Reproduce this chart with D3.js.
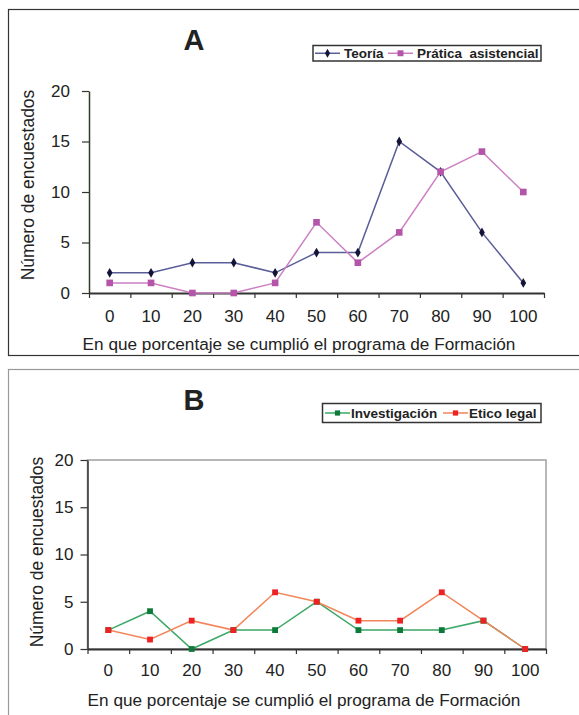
<!DOCTYPE html>
<html>
<head>
<meta charset="utf-8">
<script src="https://cdn.jsdelivr.net/npm/d3@7"></script>
<style>
  body { margin: 0; background: #fff; }
  text { font-family: "Liberation Sans", Arial, sans-serif; fill: #222; }
</style>
</head>
<body>
<div id="chart"></div>
<script>
// categories (% of programme completed)
var categories = ["0", "10", "20", "30", "40", "50", "60", "70", "80", "90", "100"];
var yTicks = [0, 5, 10, 15, 20];

// panel A
var teoria    = [2, 2, 3, 3, 2, 4, 4, 15, 12, 6, 1];
var practica  = [1, 1, 0, 0, 1, 7, 3, 6, 12, 14, 10];
// panel B
var investigacion = [2, 4, 0, 2, 2, 5, 2, 2, 2, 3, 0];
var eticoLegal    = [2, 1, 3, 2, 6, 5, 3, 3, 6, 3, 0];

var yTitle = "Número de encuestados";
var xTitle = "En que porcentaje se cumplió el programa de Formación";

var svg = d3.select("#chart").append("svg")
  .attr("width", 579)
  .attr("height", 715);

var panels = [
  {
    letter: "A", frame: [8.5, 9.5, 700, 346], frameColor: "#333",
    x0: 89, x1: 544, yTop: 91, yBot: 293,
    axisColor: "#2c3d22", box: false, tickPad: 12, yTitleX: 28, yTitleY: 185, letterX: 194, letterY: 50,
    xLabY: 322, xTitleX: 299, xTitleY: 350,
    legend: {x: 313, y: 45.5, w: 228, h: 15.5},
    series: [
      {name: "Teoría", values: teoria, line: "#5a5e98", mark: "#141438", shape: "diamond", size: 28},
      {name: "Prática  asistencial", values: practica, line: "#cc80c4", mark: "#b455aa", shape: "square", size: 44}
    ],
    legendPos: [{lx: 315, tx: 344}, {lx: 388, tx: 417}]
  },
  {
    letter: "B", frame: [8.5, 369.5, 700, 400], frameColor: "#999",
    x0: 87.5, x1: 546, yTop: 460, yBot: 649,
    axisColor: "#333", box: true, tickPad: 7, yTitleX: 37, yTitleY: 552, letterX: 194, letterY: 410,
    xLabY: 676, xTitleX: 304, xTitleY: 706,
    legend: {x: 322.5, y: 403.5, w: 218.5, h: 19},
    series: [
      {name: "Investigación", values: investigacion, line: "#3aa866", mark: "#0e7a3a", shape: "square", size: 34},
      {name: "Etico legal", values: eticoLegal, line: "#f2865a", mark: "#ee2222", shape: "square", size: 34}
    ],
    legendPos: [{lx: 325, tx: 351}, {lx: 443, tx: 469}]
  }
];

panels.forEach(function(p) {
  var g = svg.append("g");

  g.append("rect")
    .attr("x", p.frame[0]).attr("y", p.frame[1])
    .attr("width", p.frame[2]).attr("height", p.frame[3])
    .attr("fill", "none").attr("stroke", p.frameColor).attr("stroke-width", 1.2);

  var x = d3.scaleLinear().domain([-0.5, 10.5]).range([p.x0, p.x1]);
  var y = d3.scaleLinear().domain([0, 20]).range([p.yBot, p.yTop]);

  if (p.box) {
    g.append("rect")
      .attr("x", p.x0).attr("y", p.yTop)
      .attr("width", p.x1 - p.x0).attr("height", p.yBot - p.yTop)
      .attr("fill", "none").attr("stroke", "#a0a0a0").attr("stroke-width", 1.5);
  }

  // y axis
  var ya = g.append("g")
    .attr("transform", "translate(" + p.x0 + ",0)")
    .call(d3.axisLeft(y).tickValues(yTicks).tickSize(7).tickSizeOuter(0).tickPadding(p.tickPad));
  ya.select(".domain").attr("stroke", p.axisColor).attr("stroke-width", 1.5);
  ya.selectAll("line").attr("stroke", "#333").attr("stroke-width", 1.2);
  ya.selectAll("text").style("font-size", "17px").attr("fill", "#222");

  // x axis: ticks at category boundaries
  var xa = g.append("g")
    .attr("transform", "translate(0," + p.yBot + ")")
    .call(d3.axisBottom(x).tickValues(d3.range(-0.5, 11, 1)).tickSize(5).tickSizeOuter(0).tickFormat(""));
  xa.select(".domain").attr("stroke", "#333").attr("stroke-width", 2);
  xa.selectAll("line").attr("stroke", "#333").attr("stroke-width", 1.2);

  // x labels
  g.selectAll("text.xlab")
    .data(categories)
    .enter().append("text")
    .attr("class", "xlab")
    .attr("x", function(d, i) { return x(i); })
    .attr("y", p.xLabY)
    .attr("text-anchor", "middle")
    .style("font-size", "17px")
    .text(function(d) { return d; });

  g.append("text")
    .attr("x", p.xTitleX)
    .attr("y", p.xTitleY)
    .attr("text-anchor", "middle")
    .style("font-size", "17.2px")
    .text(xTitle);

  g.append("text")
    .attr("transform", "translate(" + p.yTitleX + "," + p.yTitleY + ") rotate(-90)")
    .attr("text-anchor", "middle")
    .attr("dy", "0.35em")
    .style("font-size", "17.5px")
    .text(yTitle);

  g.append("text")
    .attr("x", p.letterX).attr("y", p.letterY)
    .attr("text-anchor", "middle")
    .style("font-size", "29px").style("font-weight", "bold")
    .attr("fill", "#111")
    .text(p.letter);

  var line = d3.line()
    .x(function(d, i) { return x(i); })
    .y(function(d) { return y(d); });

  p.series.forEach(function(s) {
    g.append("path")
      .attr("d", line(s.values))
      .attr("fill", "none")
      .attr("stroke", s.line)
      .attr("stroke-width", 1.5);
  });

  p.series.forEach(function(s) {
    var sym = d3.symbol().type(s.shape === "diamond" ? d3.symbolDiamond : d3.symbolSquare).size(s.size);
    g.selectAll(null)
      .data(s.values)
      .enter().append("path")
      .attr("d", sym)
      .attr("transform", function(d, i) { return "translate(" + x(i) + "," + y(d) + ")"; })
      .attr("fill", s.mark);
  });

  // legend
  var L = p.legend;
  g.append("rect")
    .attr("x", L.x).attr("y", L.y).attr("width", L.w).attr("height", L.h)
    .attr("fill", "#fff").attr("stroke", "#333").attr("stroke-width", 1.5);
  var cy = L.y + L.h / 2;
  p.series.forEach(function(s, k) {
    var pos = p.legendPos[k];
    g.append("line")
      .attr("x1", pos.lx).attr("x2", pos.lx + 25)
      .attr("y1", cy).attr("y2", cy)
      .attr("stroke", s.line).attr("stroke-width", 1.5);
    var sym = d3.symbol().type(s.shape === "diamond" ? d3.symbolDiamond : d3.symbolSquare).size(s.size * 0.8);
    g.append("path")
      .attr("d", sym)
      .attr("transform", "translate(" + (pos.lx + 12.5) + "," + cy + ")")
      .attr("fill", s.mark);
    g.append("text")
      .attr("x", pos.tx).attr("y", cy)
      .attr("dy", "0.36em")
      .style("font-size", "13.5px").style("font-weight", "bold")
      .style("white-space", "pre")
      .attr("fill", "#111")
      .text(s.name);
  });
});
</script>
</body>
</html>
